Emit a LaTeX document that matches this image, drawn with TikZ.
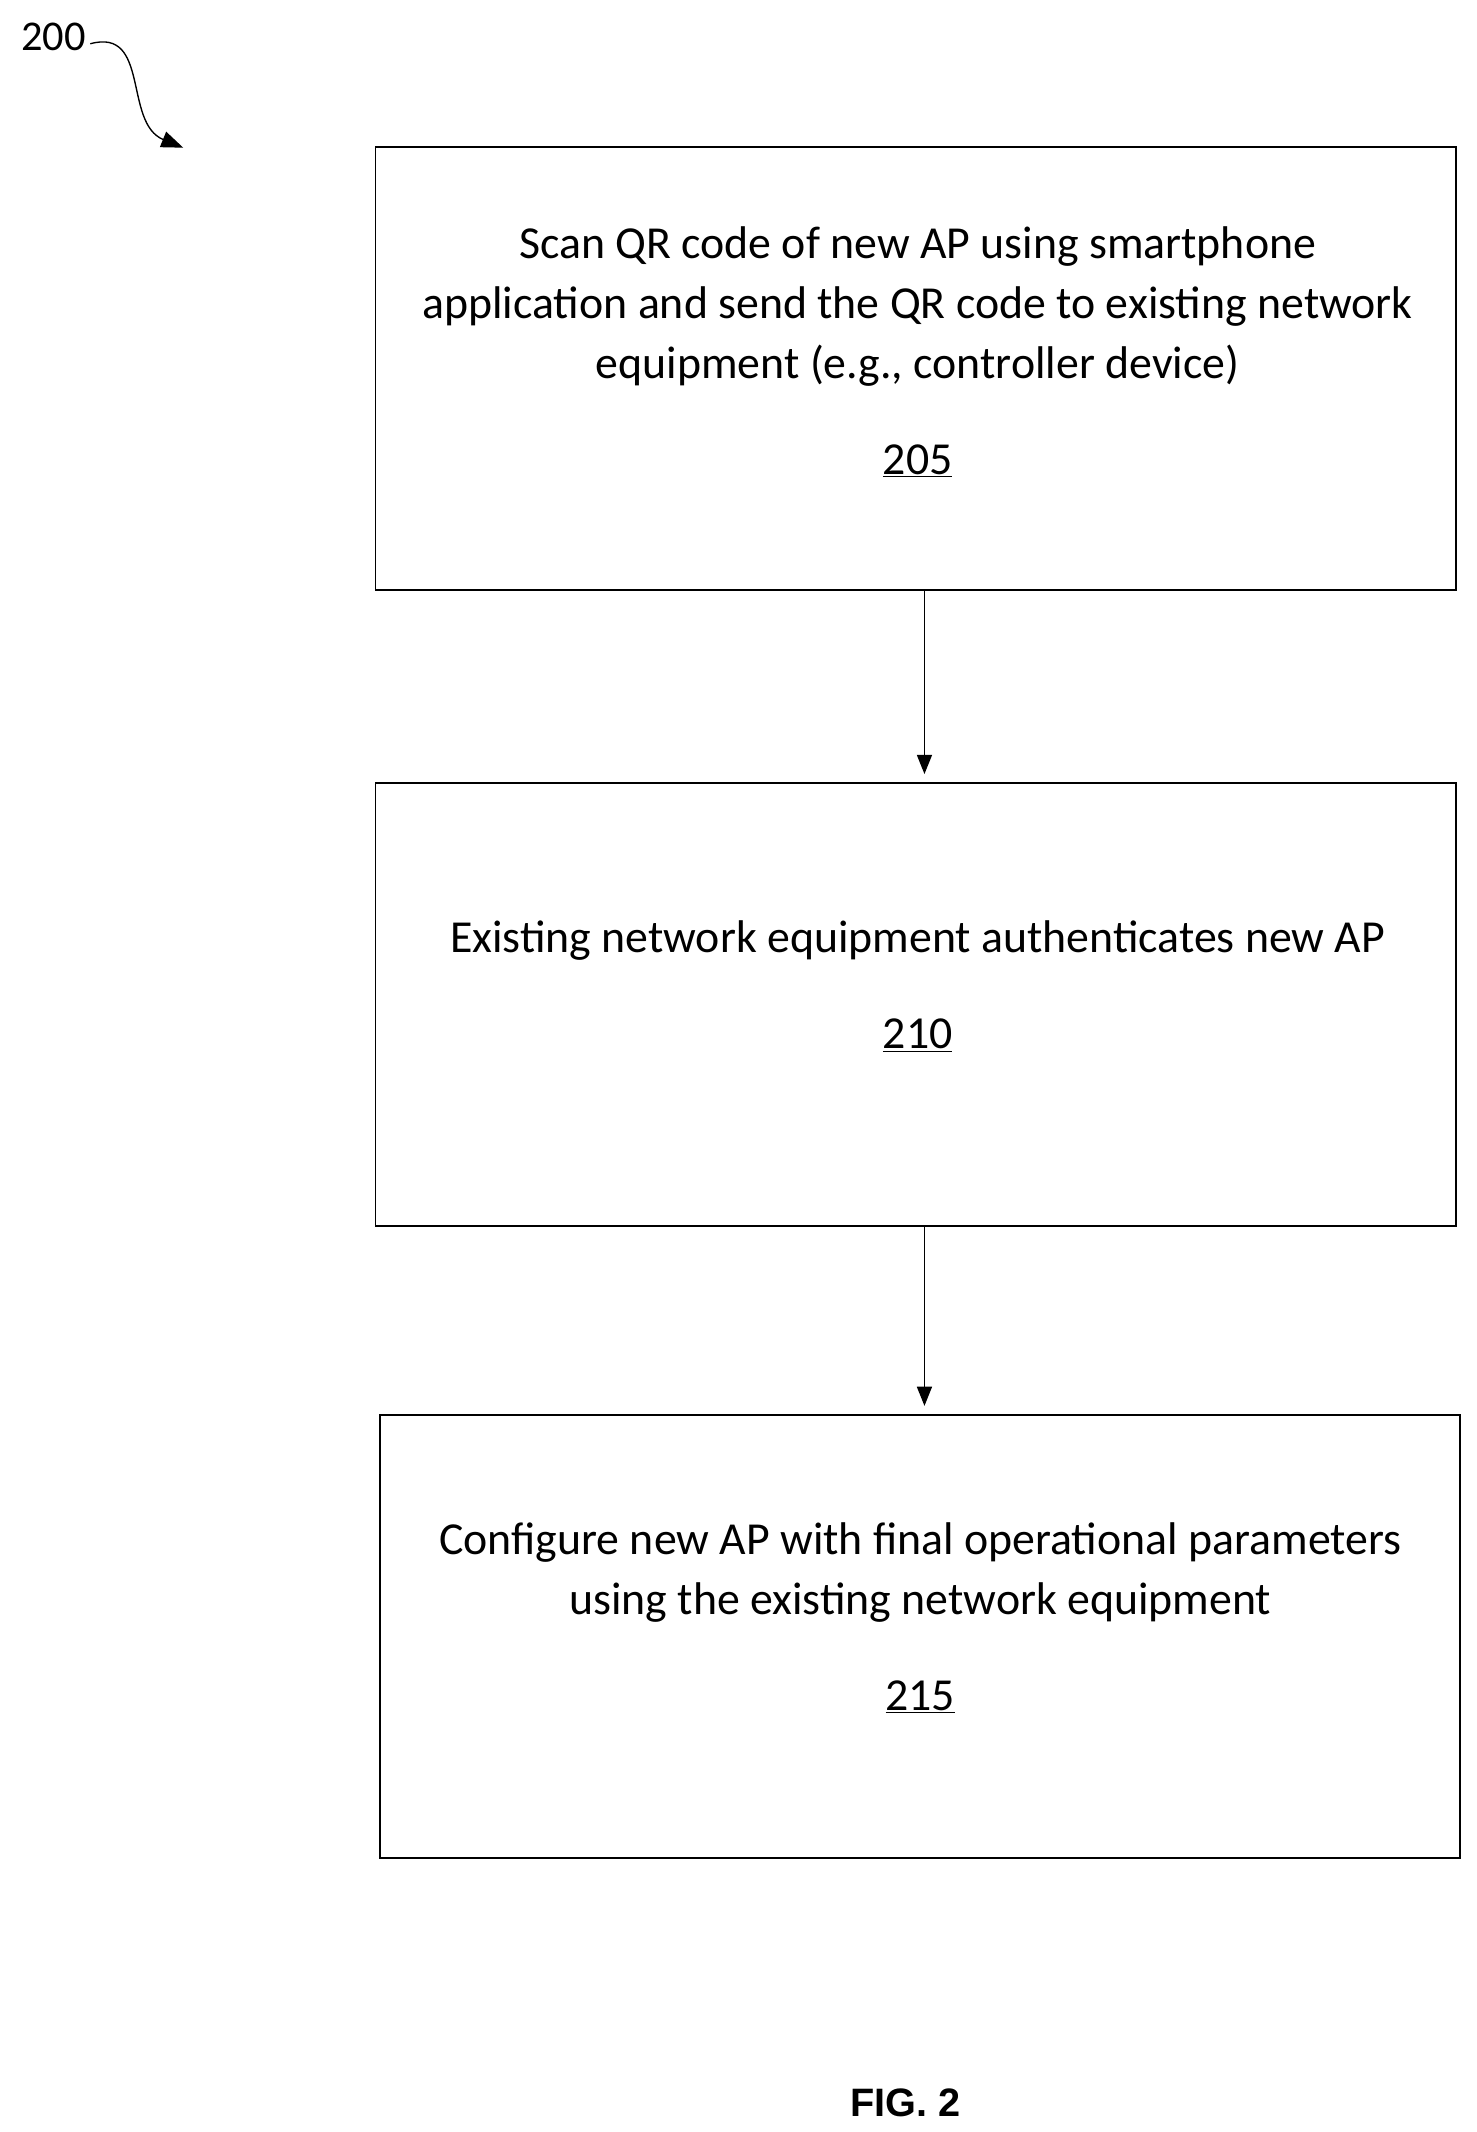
\documentclass[tikz,border=0pt]{standalone}
\usepackage{fontspec}
\setmainfont{Carlito}
\newfontfamily\figfont{Liberation Sans}
\usetikzlibrary{arrows.meta}
\begin{document}
\begin{tikzpicture}[x=1pt,y=-1pt,
  box/.style={draw,line width=1.3pt,minimum width=790pt,minimum height=324pt,anchor=north west,inner sep=0},
  txt/.style={font=\fontsize{33.5}{44}\selectfont,align=center},
  arr/.style={line width=1pt,-{Triangle[length=14pt,width=11pt]}}]
\useasboundingbox (0,0) rectangle (1080,1559);
\node[box] (b1) at (274,107) {};
\node[box] (b2) at (274,572) {};
\node[box] (b3) at (277,1034) {};
\node[txt] (t1) at (671,224) {Scan QR code of new AP using smartphone\\application and send the QR code to existing network\\equipment (e.g., controller device)};
\node[txt] (n1) at (671,337) {\underline{205}};
\node[txt] (t2) at (671,688) {Existing network equipment authenticates new AP};
\node[txt] (n2) at (671,757) {\underline{210}};
\node[txt] (t3) at (673,1150) {Configure new AP with final operational parameters\\using the existing network equipment};
\node[txt] (n3) at (673,1241) {\underline{215}};
\coordinate (a1s) at (676,432); \coordinate (a1e) at (676,566);
\coordinate (a2s) at (676,896); \coordinate (a2e) at (676,1028);
\draw[arr] (a1s) -- (a1e);
\draw[arr] (a2s) -- (a2e);
\node[font=\fontsize{31}{36}\selectfont] (lbl) at (39,27) {200};
\coordinate (c1) at (66,32); \coordinate (c2) at (134,108);
\draw[line width=1pt,-{Triangle[length=16pt,width=12pt]}] (c1) .. controls (110,20) and (90,90) .. (c2);
\node[font=\figfont\bfseries\fontsize{29}{34}\selectfont] (fig) at (662,1538) {FIG. 2};
\end{tikzpicture}
\end{document}
